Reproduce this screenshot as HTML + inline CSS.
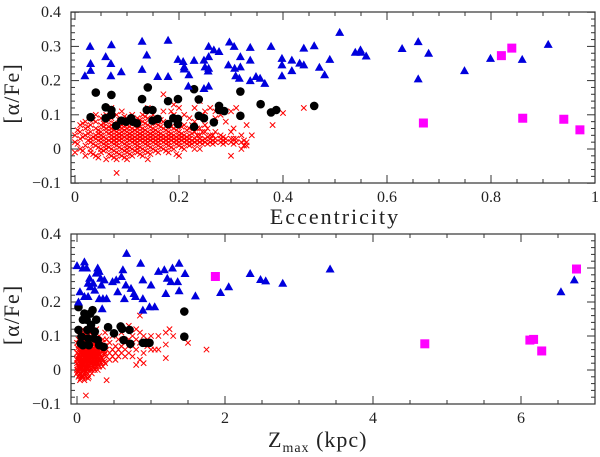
<!DOCTYPE html>
<html><head><meta charset="utf-8"><style>
html,body{margin:0;padding:0;background:#fff;width:600px;height:457px;overflow:hidden}
svg text{font-family:"Liberation Serif",serif;fill:#222}
</style></head><body>
<svg id="chart" width="600" height="457" viewBox="0 0 600 457" xmlns="http://www.w3.org/2000/svg"></svg>
<script>
// ---------- TOP PANEL DATA (eccentricity) ----------
const topBlueEcc=[0.019,0.029,0.03,0.03,0.059,0.07,0.069,0.069,0.089,0.129,0.129,0.138,0.159,0.179,0.179,0.198,0.208,0.21,0.21,0.219,0.218,0.229,0.248,0.248,0.25,0.257,0.257,0.257,0.256,0.257,0.267,0.277,0.297,0.295,0.306,0.307,0.309,0.316,0.318,0.318,0.337,0.337,0.337,0.348,0.356,0.365,0.377,0.398,0.398,0.398,0.417,0.417,0.432,0.44,0.44,0.46,0.47,0.48,0.49,0.509,0.539,0.549,0.55,0.56,0.629,0.66,0.66,0.68,0.749,0.799,0.86,0.91];
const topBlueAlpha=[0.214,0.30,0.25,0.23,0.27,0.305,0.25,0.214,0.226,0.315,0.233,0.275,0.212,0.318,0.212,0.262,0.256,0.24,0.234,0.217,0.184,0.259,0.26,0.177,0.24,0.30,0.27,0.236,0.228,0.184,0.29,0.285,0.313,0.246,0.30,0.236,0.214,0.207,0.27,0.24,0.297,0.26,0.20,0.212,0.207,0.192,0.30,0.265,0.246,0.214,0.26,0.229,0.251,0.295,0.246,0.302,0.239,0.217,0.262,0.341,0.283,0.29,0.283,0.272,0.294,0.314,0.205,0.28,0.229,0.265,0.262,0.306];
const topBlackEcc=[0.03,0.04,0.059,0.059,0.07,0.07,0.07,0.079,0.089,0.098,0.108,0.111,0.119,0.129,0.138,0.14,0.149,0.149,0.159,0.179,0.179,0.198,0.198,0.198,0.189,0.229,0.229,0.238,0.238,0.248,0.267,0.277,0.277,0.287,0.318,0.318,0.357,0.377,0.387,0.46];
const topBlackAlpha=[0.093,0.165,0.122,0.09,0.158,0.114,0.10,0.068,0.083,0.08,0.09,0.08,0.075,0.146,0.114,0.18,0.114,0.083,0.088,0.073,0.14,0.146,0.088,0.073,0.09,0.175,0.065,0.145,0.097,0.09,0.078,0.126,0.114,0.111,0.168,0.097,0.131,0.107,0.114,0.126];
const topMagEcc=[0.67,0.82,0.84,0.861,0.94,0.971];
const topMagAlpha=[0.076,0.273,0.295,0.09,0.087,0.056];
const topRedEcc=[0,0.01,0.02,0.03,0.04,0.05,0.06,0.07,0.08,0.09,0.10,0.11,0.12,0.13,0.14,0.15,0.16,0.17,0.18,0.19,0.20,0.21,0.22,0.23,0.24,0.25,0.26,0.27,0.28,0.29,0.30,0.31,0.32,0.33,0.34,0.38,0.40,0.44];
const topRedAlpha=[[0.04,-0.01,0.02],[0.05,0.0,0.07,0.03],[0.06,0.01,-0.02,0.04,0.08],[0.03,0.0,0.05,0.07,-0.01,0.02],[0.10,0.06,0.04,0.01,-0.02,0.03,0.08],[0.07,0.05,0.02,0.0,-0.01,0.04,0.09,0.03],[0.08,0.06,0.03,0.01,-0.03,0.05,0.02,0.0,0.10],[0.09,0.06,0.04,0.02,0.0,-0.02,0.07,0.03,0.05,0.12],[0.10,0.07,0.05,0.03,0.01,-0.01,-0.03,0.04,0.06,0.02,-0.07],[0.08,0.06,0.04,0.02,0.0,-0.02,0.05,0.03,0.07,0.11],[0.09,0.07,0.05,0.03,0.01,-0.01,0.04,0.06,0.02,0.0,-0.03],[0.08,0.06,0.04,0.02,0.0,-0.02,0.05,0.03,0.10],[0.09,0.07,0.05,0.03,0.01,-0.01,0.04,0.06,0.02,0.0],[0.10,0.06,0.04,0.02,0.0,-0.02,0.05,0.03,0.08],[0.09,0.07,0.05,0.03,0.01,-0.01,0.04,0.02,0.12,-0.03],[0.08,0.06,0.04,0.02,0.0,0.05,0.03,0.10],[0.07,0.05,0.03,0.01,-0.01,0.04,0.02,0.09],[0.08,0.06,0.04,0.02,0.0,0.03,0.16,0.11],[0.07,0.05,0.03,0.01,-0.01,0.04,0.02],[0.10,0.06,0.04,0.02,0.0,0.03,0.13],[0.08,0.05,0.03,0.01,-0.02,0.04,0.12,0.02],[0.07,0.04,0.02,0.0,0.03,0.10],[0.06,0.04,0.02,0.01,0.09,0.03],[0.05,0.03,0.02,0.0,0.12,0.08],[0.06,0.03,0.02,0.0,0.14,0.04],[0.05,0.03,0.02,0.11,0.07],[0.04,0.02,0.03,0.12],[0.05,0.02,0.03,0.09,0.11],[0.04,0.02,0.03,0.10],[0.03,0.02,0.08],[0.03,0.02,-0.02,0.05,0.11],[0.02,0.03,0.12],[0.02,0.04,0.0],[0.01,0.02,0.07],[0.04],[0.07],[0.105],[0.12]];
const topRedEcc2=[0.005,0.015,0.025,0.035,0.045,0.055,0.065,0.075,0.085,0.095,0.105,0.115,0.125,0.135,0.145,0.155,0.165,0.175,0.185,0.195,0.205,0.215,0.225,0.235,0.245,0.255,0.265,0.285,0.305,0.325];
const topRedAlpha2=[[0.015,0.055],[0.035,0.075,-0.005],[0.025,0.045,0.065],[0.015,0.035,0.085,-0.015],[0.055,0.025,0.005,-0.025,0.045],[0.065,0.035,0.015,-0.005,0.075,0.095],[0.045,0.025,0.005,0.065,-0.015,0.085],[0.055,0.035,0.015,-0.005,0.075,-0.025,0.025],[0.045,0.025,0.005,0.065,-0.015,0.085,0.035],[0.055,0.035,0.015,-0.005,0.075,-0.025,0.095],[0.045,0.025,0.005,0.065,-0.015,0.035,0.08],[0.055,0.035,0.015,-0.005,0.075,0.025],[0.045,0.025,0.005,0.065,-0.015,0.085,0.035],[0.055,0.035,0.015,-0.005,0.075,0.025,0.095],[0.045,0.025,0.005,0.065,-0.015,0.035],[0.055,0.035,0.015,-0.005,0.075,0.025],[0.045,0.025,0.005,0.065,0.035,0.085],[0.055,0.035,0.015,-0.005,0.025],[0.045,0.025,0.005,0.065,0.035,0.11],[0.055,0.035,0.015,0.025,-0.015],[0.045,0.025,0.005,0.065,0.035],[0.055,0.035,0.015,0.025],[0.045,0.025,0.015,0.07],[0.04,0.025,0.015,0.06],[0.05,0.025,0.015,0.1],[0.035,0.015,0.06],[0.04,0.015,0.025],[0.035,0.015,0.025],[0.03,0.015,0.06],[0.025,0.01]];
const topXTicks=[0,0.2,0.4,0.6,0.8,1];
const topXTickLabels=["0","0.2","0.4","0.6","0.8","1"];
// ---------- BOTTOM PANEL DATA (Zmax) ----------
const botBlueZ=[0,0.02,0.04,0.1,0.08,0.13,0.1,0.15,0.15,0.17,0.18,0.22,0.24,0.26,0.28,0.3,0.32,0.33,0.34,0.3,0.35,0.4,0.37,0.48,0.53,0.55,0.6,0.62,0.64,0.67,0.66,0.73,0.77,0.79,0.86,0.89,0.89,0.89,0.98,1.0,1.05,1.1,1.18,1.2,1.22,1.27,1.29,1.36,1.38,1.38,1.46,1.6,1.94,2.05,2.34,2.48,2.55,2.78,3.42,6.54,6.72];
const botBlueAlpha=[0.307,0.2,0.23,0.318,0.30,0.30,0.216,0.216,0.255,0.27,0.245,0.255,0.235,0.285,0.30,0.29,0.27,0.25,0.18,0.21,0.21,0.21,0.265,0.26,0.265,0.23,0.275,0.295,0.21,0.343,0.25,0.24,0.225,0.216,0.314,0.265,0.21,0.176,0.186,0.25,0.186,0.29,0.295,0.225,0.27,0.26,0.30,0.26,0.314,0.233,0.284,0.218,0.228,0.245,0.284,0.266,0.262,0.255,0.297,0.23,0.265];
const botBlackZ=[0.02,0.02,0.05,0.06,0.08,0.08,0.1,0.13,0.14,0.15,0.16,0.18,0.19,0.21,0.23,0.24,0.26,0.28,0.3,0.36,0.42,0.5,0.59,0.61,0.63,0.71,0.72,0.89,0.93,0.98,1.45,1.45];
const botBlackAlpha=[0.185,0.118,0.078,0.098,0.148,0.073,0.166,0.148,0.118,0.093,0.073,0.166,0.133,0.176,0.093,0.113,0.148,0.088,0.073,0.068,0.126,0.108,0.128,0.121,0.088,0.118,0.077,0.08,0.08,0.08,0.172,0.098];
const botMagZ=[1.87,4.7,6.12,6.17,6.28,6.75];
const botMagAlpha=[0.275,0.077,0.088,0.09,0.056,0.297];
const botRedZ=[0,0.02,0.04,0.06,0.08,0.10,0.12,0.14,0.16,0.18,0.20,0.22,0.24,0.26,0.28,0.30,0.32,0.35,0.38,0.40,0.44,0.48,0.52,0.56,0.60,0.65,0.70,0.75,0.80,0.85,0.90,0.95,1.00,1.05,1.10,1.20,1.25,1.30,1.50,1.75];
const botRedAlpha=[[0.02,0.05,-0.01,0.08,0.0,0.03],[0.06,0.03,0.0,-0.02,0.09,0.04,0.01],[0.07,0.05,0.02,-0.01,0.1,0.04,0.0,-0.03],[0.08,0.06,0.03,0.01,-0.02,0.05,0.11,0.02],[0.09,0.06,0.04,0.02,0.0,-0.02,0.07,0.03,0.12],[0.08,0.06,0.04,0.02,0.0,-0.03,0.05,0.01,0.10],[0.09,0.07,0.05,0.03,0.01,-0.02,0.04,0.06,-0.075],[0.08,0.06,0.04,0.02,0.0,-0.01,0.05,0.1,0.03],[0.09,0.07,0.05,0.03,0.01,-0.02,0.04,0.06],[0.08,0.06,0.04,0.02,0.0,0.05,0.11,0.03],[0.09,0.06,0.04,0.02,0.0,-0.01,0.07,0.05],[0.08,0.05,0.03,0.01,0.06,0.10],[0.09,0.06,0.04,0.02,0.0,0.07],[0.07,0.05,0.03,0.01,0.08,0.12],[0.06,0.04,0.02,0.09,0.0],[0.08,0.05,0.03,0.01,0.10],[0.07,0.04,0.02,0.06],[0.06,0.03,0.09,0.01],[0.07,0.05,0.02,0.11],[0.06,0.04,-0.03,0.09],[0.05,0.08,0.03],[0.06,0.04,0.10],[0.05,0.07,0.03],[0.06,0.09,0.04],[0.07,0.05,0.11],[0.06,0.08,0.04],[0.05,0.09,0.13],[0.07,0.04,0.10],[0.015,0.06,0.12,0.09],[0.03,0.16,0.08,0.11],[0.05,0.02,0.10],[0.07,0.09],[0.10,0.06],[0.06],[0.10,0.06],[0.11,0.075,0.035],[0.12],[0.10],[0.08],[0.06]];
const botRedZ2=[0.01,0.03,0.05,0.07,0.09,0.11,0.13,0.15,0.17,0.19,0.21,0.23,0.25,0.27,0.29,0.31,0.34,0.37];
const botRedAlpha2=[[0.015,0.035,0.065,-0.005],[0.025,0.045,0.075,-0.015,0.005],[0.015,0.035,0.055,0.085,-0.025],[0.025,0.045,0.065,0.005,-0.015,0.095],[0.015,0.035,0.055,0.085,-0.005],[0.025,0.045,0.065,0.005,-0.015,0.105],[0.015,0.035,0.055,0.085,-0.005],[0.025,0.045,0.065,0.005,-0.025],[0.015,0.035,0.055,0.085,0.11],[0.025,0.045,0.065,0.005],[0.015,0.035,0.055,0.085],[0.025,0.045,0.065,0.005],[0.015,0.035,0.055,0.085],[0.025,0.045,0.065,0.095],[0.035,0.055,0.015],[0.025,0.045,0.075],[0.035,0.055,0.08],[0.045,0.025,0.07]];
const botXTicks=[0,2,4,6];
const botXTickLabels=["0","2","4","6"];
const yTicks=[-0.1,0,0.1,0.2,0.3,0.4];
const yTickLabels=["\u22120.1","0","0.1","0.2","0.3","0.4"];

const NS="http://www.w3.org/2000/svg";
const svg=document.getElementById('chart');
function mk(tag,attrs,parent){const e=document.createElementNS(NS,tag);for(const k in attrs)e.setAttribute(k,attrs[k]);(parent||svg).appendChild(e);return e;}

function panel(cfg){
  const g=mk('g',{});
  
  
  const L=71,R=595,T=cfg.top,B=cfg.bottom;
  const xs=v=>cfg.x0+(v-cfg.xmin)*cfg.xk;
  const ys=v=>cfg.y0-v*cfg.yk;
  const fr=mk('rect',{x:L,y:T,width:R-L,height:B-T,fill:'none',stroke:'#333','stroke-width':1.2},g);
  
  
  for(let v=-0.1;v<=0.4001;v+=0.02){
    const y=ys(v);const major=Math.abs(Math.round(v*10)-v*10)<1e-6;
    const len=major?8:4;
    mk('line',{x1:L,y1:y,x2:L+len,y2:y,stroke:'#333','stroke-width':1},g);
    mk('line',{x1:R,y1:y,x2:R-len,y2:y,stroke:'#333','stroke-width':1},g);
  }
  yTicks.forEach((v,i)=>{
    const t=mk('text',{x:61,y:ys(v)+5,'text-anchor':'end','font-size':16},g);
    t.textContent=yTickLabels[i];
    
    
  });
  for(let v=cfg.xmin;v<=cfg.xmax+1e-6;v+=cfg.minor){
    const x=xs(v);if(x<L||x>R+0.5)continue;
    const major=Math.abs(v/cfg.major-Math.round(v/cfg.major))<1e-6;
    const len=major?8:4;
    mk('line',{x1:x,y1:B,x2:x,y2:B-len,stroke:'#333','stroke-width':1},g);
    mk('line',{x1:x,y1:T,x2:x,y2:T+len,stroke:'#333','stroke-width':1},g);
  }
  cfg.xt.forEach((v,i)=>{
    const t=mk('text',{x:xs(v),y:B+19,'text-anchor':'middle','font-size':16},g);
    t.textContent=cfg.xtl[i];
    
    
  });
  const drawRed=(X,Y)=>X.forEach((x,i)=>{Y[i].forEach(a=>{
    const px=xs(x),py=ys(a),s=2.7;
    const p=mk('path',{d:`M${px-s},${py-s}L${px+s},${py+s}M${px-s},${py+s}L${px+s},${py-s}`,stroke:'#f00','stroke-width':1},g);
    
    
  });});
  drawRed(cfg.redX,cfg.redY);
  drawRed(cfg.redX2,cfg.redY2);
  cfg.bkX.forEach((x,i)=>{
    const c=mk('circle',{cx:xs(x),cy:ys(cfg.bkY[i]),r:4.3,fill:'#000'},g);
    
    
  });
  cfg.blX.forEach((x,i)=>{
    const px=xs(x),py=ys(cfg.blY[i]);
    const p=mk('polygon',{points:`${px},${py-4.5} ${px-4.5},${py+3.5} ${px+4.5},${py+3.5}`,fill:'#0000dd'},g);
    
    
  });
  cfg.mgX.forEach((x,i)=>{
    const px=xs(x),py=ys(cfg.mgY[i]);
    const r=mk('rect',{x:px-4.5,y:py-4.5,width:9,height:9,fill:'#ff00ff'},g);
    
    
  });
  const yt=mk('text',{x:0,y:0,'font-size':22,'letter-spacing':1,'text-anchor':'middle',transform:`translate(19,${(T+B)/2-4}) rotate(-90)`},g);
  yt.textContent='[\u03b1/Fe]';
  
  
}

panel({name:'eccentricity-panel',top:12,bottom:183,x0:75,xmin:0,xmax:1,xk:520,y0:149,yk:342,minor:0.05,major:0.2,
  xt:topXTicks,xtl:topXTickLabels,redX:topRedEcc,redY:topRedAlpha,redX2:topRedEcc2,redY2:topRedAlpha2,bkX:topBlackEcc,bkY:topBlackAlpha,blX:topBlueEcc,blY:topBlueAlpha,mgX:topMagEcc,mgY:topMagAlpha});
panel({name:'zmax-panel',top:234,bottom:404,x0:77,xmin:0,xmax:7,xk:74,y0:370,yk:340,minor:0.5,major:2,
  xt:botXTicks,xtl:botXTickLabels,redX:botRedZ,redY:botRedAlpha,redX2:botRedZ2,redY2:botRedAlpha2,bkX:botBlackZ,bkY:botBlackAlpha,blX:botBlueZ,blY:botBlueAlpha,mgX:botMagZ,mgY:botMagAlpha});

const t1=mk('text',{x:335,y:224,'text-anchor':'middle','font-size':22,'letter-spacing':2});
t1.textContent='Eccentricity';


const t2=mk('text',{x:268,y:447,'font-size':22,'letter-spacing':1});


t2.innerHTML='Z<tspan font-size="14" dy="5">max</tspan><tspan dy="-5"> (kpc)</tspan>';
</script>
</body></html>
